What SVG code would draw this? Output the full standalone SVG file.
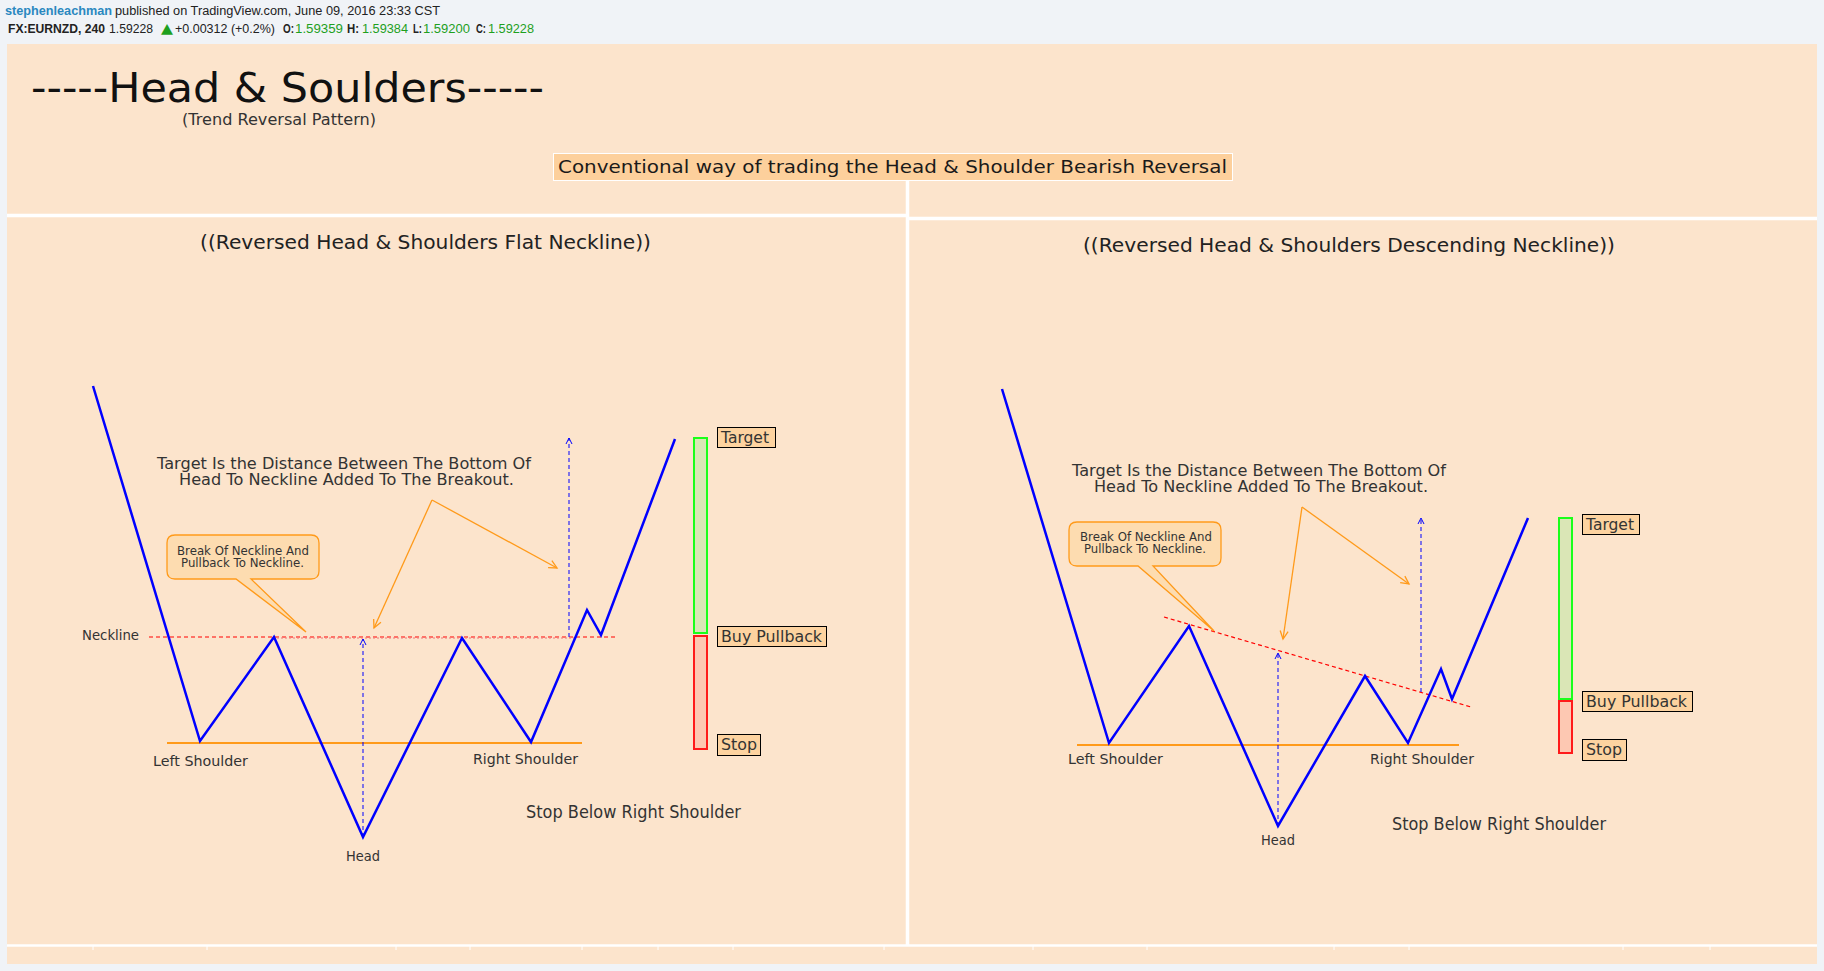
<svg xmlns="http://www.w3.org/2000/svg" width="1824" height="971" viewBox="0 0 1824 971">
<defs>
<style>
.t{font-family:"DejaVu Sans","Liberation Sans",sans-serif;fill:#333}
.h{font-family:"Liberation Sans",Arial,sans-serif;font-size:12px;fill:#222}
.b{font-weight:bold}
.g{fill:#1ea01e}
.blue{fill:none;stroke:#0000ff;stroke-width:2.5;stroke-linejoin:miter}
.neck{stroke:#ff0000;stroke-width:1.2;stroke-dasharray:4 3;fill:none}
.shl{stroke:#ff9a1a;stroke-width:2.2}
.oarr{fill:none;stroke:#ff9a1a;stroke-width:1.3;marker-end:url(#ao)}
.barr{stroke:#0000ff;stroke-width:1;stroke-dasharray:4 3;fill:none;marker-end:url(#ab)}
.lbl rect{fill:#fdd3a0;stroke:#000;stroke-width:1}
.lbl text{font-size:16px}
.call path{fill:#fddcb0;stroke:#ff9a1a;stroke-width:1.3}
.call text{font-size:12.5px}
.grn{fill:#dae6b6;stroke:#1aff1a;stroke-width:2}
.red{fill:#fdc8b2;stroke:#ff1a1a;stroke-width:2}
.sep{stroke:#ffffff;fill:none}
</style>
<marker id="ao" markerWidth="12" markerHeight="12" refX="9" refY="5" orient="auto" markerUnits="userSpaceOnUse"><path d="M1,1 L9,5 L1,9" fill="none" stroke="#ff9a1a" stroke-width="1.3"/></marker>
<marker id="ab" markerWidth="10" markerHeight="10" refX="7" refY="4" orient="auto" markerUnits="userSpaceOnUse"><path d="M1,1 L7,4 L1,7" fill="none" stroke="#0000ff" stroke-width="1"/></marker>
</defs>
<rect x="0" y="0" width="1824" height="971" fill="#f0f3f7"/>
<g id="header">
<text class="h b" x="5" y="15" style="fill:#2a88c0" textLength="107" lengthAdjust="spacingAndGlyphs">stephenleachman</text>
<text class="h" x="115" y="15" textLength="325" lengthAdjust="spacingAndGlyphs">published on TradingView.com, June 09, 2016 23:33 CST</text>
<text class="h b" x="8" y="33" textLength="97" lengthAdjust="spacingAndGlyphs">FX:EURNZD, 240</text>
<text class="h" x="109" y="33" textLength="44" lengthAdjust="spacingAndGlyphs">1.59228</text>
<text class="g" x="161" y="33" font-family="DejaVu Sans, sans-serif" font-size="14" textLength="12" lengthAdjust="spacingAndGlyphs">▲</text>
<text class="h" x="175" y="33" textLength="100" lengthAdjust="spacingAndGlyphs">+0.00312 (+0.2%)</text>
<text class="h b" x="283" y="33" textLength="11" lengthAdjust="spacingAndGlyphs">O:</text>
<text class="h g" x="295" y="33" textLength="48" lengthAdjust="spacingAndGlyphs">1.59359</text>
<text class="h b" x="347" y="33" textLength="12" lengthAdjust="spacingAndGlyphs">H:</text>
<text class="h g" x="362" y="33" textLength="46" lengthAdjust="spacingAndGlyphs">1.59384</text>
<text class="h b" x="413" y="33" textLength="9" lengthAdjust="spacingAndGlyphs">L:</text>
<text class="h g" x="423" y="33" textLength="47" lengthAdjust="spacingAndGlyphs">1.59200</text>
<text class="h b" x="476" y="33" textLength="10" lengthAdjust="spacingAndGlyphs">C:</text>
<text class="h g" x="488" y="33" textLength="46" lengthAdjust="spacingAndGlyphs">1.59228</text>
</g>
<g id="panel">
<rect x="7" y="44" width="1810" height="920" fill="#fce4cc"/>
<line class="sep" x1="7" y1="215.5" x2="907" y2="215.5" stroke-width="3.5"/>
<line class="sep" x1="907" y1="218.5" x2="1817" y2="218.5" stroke-width="3.5"/>
<line class="sep" x1="907.5" y1="181" x2="907.5" y2="945" stroke-width="3.5"/>
<line class="sep" x1="7" y1="945.5" x2="1817" y2="945.5" stroke-width="2.5"/>
<path class="sep" stroke-width="1" d="M93,946V950M207,946V950M396,946V950M470,946V950M582,946V950M658,946V950M733,946V950M884,946V950M1033,946V950M1147,946V950M1334,946V950M1409,946V950M1623,946V950M1710,946V950"/>
</g>
<g id="title">
<text class="t" x="31" y="102" font-size="41" style="fill:#111" textLength="513" lengthAdjust="spacingAndGlyphs">-----Head &amp; Soulders-----</text>
<text class="t" x="182" y="125" font-size="15" textLength="194" lengthAdjust="spacingAndGlyphs">(Trend Reversal Pattern)</text>
</g>
<g id="subtitle-box">
<rect x="553.5" y="153.5" width="679" height="27" fill="#fdd09c" stroke="#ffffff" stroke-width="1"/>
<text class="t" x="558" y="173" font-size="18" style="fill:#1a1a1a" textLength="669" lengthAdjust="spacingAndGlyphs">Conventional way of trading the Head &amp; Shoulder Bearish Reversal</text>
</g>
<g id="left-title"><text class="t" x="200" y="249" font-size="19" style="fill:#222" textLength="451" lengthAdjust="spacingAndGlyphs">((Reversed Head &amp; Shoulders Flat Neckline))</text></g>
<g id="right-title"><text class="t" x="1083" y="252" font-size="19" style="fill:#222" textLength="532" lengthAdjust="spacingAndGlyphs">((Reversed Head &amp; Shoulders Descending Neckline))</text></g>

<g id="connectors">
<line class="neck" x1="149" y1="637" x2="617" y2="637"/>
<line x1="273" y1="638" x2="577" y2="638" stroke="#f08080" stroke-width="2" stroke-dasharray="2 2" opacity="0.55"/>
<line class="shl" x1="167" y1="743" x2="582" y2="743"/>
<line class="barr" x1="363" y1="837" x2="363" y2="639"/>
<line class="barr" x1="569" y1="637" x2="569" y2="438"/>
<line class="oarr" x1="432" y1="500" x2="374" y2="628"/>
<line class="oarr" x1="432" y1="500" x2="557" y2="568"/>
<polyline class="blue" points="93,386 200,741 274,637 363,837 462,638 531,742 587,610 601,635 675,439"/>

<line class="neck" x1="1164" y1="617" x2="1471" y2="707"/>
<line class="shl" x1="1077" y1="745" x2="1459" y2="745"/>
<line class="barr" x1="1278" y1="826" x2="1278" y2="653"/>
<line class="barr" x1="1421" y1="692" x2="1421" y2="518"/>
<line class="oarr" x1="1302" y1="507" x2="1283" y2="639"/>
<line class="oarr" x1="1302" y1="507" x2="1409" y2="584"/>
<polyline class="blue" points="1002,389 1109,743 1189,626 1278,826 1365,676 1408,743 1441,669 1452,699 1528,518"/>
</g>

<g id="left-labels">
<text class="t" x="82" y="640" font-size="14" textLength="57" lengthAdjust="spacingAndGlyphs">Neckline</text>
<text class="t" x="153" y="766" font-size="14" textLength="95" lengthAdjust="spacingAndGlyphs">Left Shoulder</text>
<text class="t" x="473" y="764" font-size="14" textLength="105" lengthAdjust="spacingAndGlyphs">Right Shoulder</text>
<text class="t" x="346" y="861" font-size="14" textLength="34" lengthAdjust="spacingAndGlyphs">Head</text>
<text class="t" x="526" y="818" font-size="17" textLength="215" lengthAdjust="spacingAndGlyphs">Stop Below Right Shoulder</text>
<text class="t" x="157" y="469" font-size="16" textLength="374" lengthAdjust="spacingAndGlyphs">Target Is the Distance Between The Bottom Of</text>
<text class="t" x="179" y="485" font-size="16" textLength="335" lengthAdjust="spacingAndGlyphs">Head To Neckline Added To The Breakout.</text>
</g>
<g id="left-callout" class="call">
<path d="M175,535 H311 Q319,535 319,543 V571 Q319,579 311,579 H251 L306,632 L236,579 H175 Q167,579 167,571 V543 Q167,535 175,535 Z"/>
<text class="t" x="177" y="555" textLength="132" lengthAdjust="spacingAndGlyphs">Break Of Neckline And</text>
<text class="t" x="181" y="567" textLength="123" lengthAdjust="spacingAndGlyphs">Pullback To Neckline.</text>
</g>
<g id="left-bars">
<rect class="grn" x="694" y="438" width="13" height="195"/>
<rect class="red" x="694" y="636" width="13" height="113"/>
</g>
<g id="left-target" class="lbl"><rect x="717.5" y="427.5" width="58" height="20"/><text class="t" x="721" y="443" textLength="48" lengthAdjust="spacingAndGlyphs">Target</text></g>
<g id="left-buy" class="lbl"><rect x="717.5" y="626.5" width="109" height="20"/><text class="t" x="721" y="642" textLength="101" lengthAdjust="spacingAndGlyphs">Buy Pullback</text></g>
<g id="left-stop" class="lbl"><rect x="717.5" y="734.5" width="43" height="21"/><text class="t" x="721" y="750" textLength="36" lengthAdjust="spacingAndGlyphs">Stop</text></g>

<g id="right-labels">
<text class="t" x="1068" y="764" font-size="14" textLength="95" lengthAdjust="spacingAndGlyphs">Left Shoulder</text>
<text class="t" x="1370" y="764" font-size="14" textLength="104" lengthAdjust="spacingAndGlyphs">Right Shoulder</text>
<text class="t" x="1261" y="845" font-size="14" textLength="34" lengthAdjust="spacingAndGlyphs">Head</text>
<text class="t" x="1392" y="830" font-size="17" textLength="214" lengthAdjust="spacingAndGlyphs">Stop Below Right Shoulder</text>
<text class="t" x="1072" y="476" font-size="16" textLength="374" lengthAdjust="spacingAndGlyphs">Target Is the Distance Between The Bottom Of</text>
<text class="t" x="1094" y="492" font-size="16" textLength="334" lengthAdjust="spacingAndGlyphs">Head To Neckline Added To The Breakout.</text>
</g>
<g id="right-callout" class="call">
<path d="M1077,522 H1213 Q1221,522 1221,530 V558 Q1221,566 1213,566 H1153 L1214,631 L1138,566 H1077 Q1069,566 1069,558 V530 Q1069,522 1077,522 Z"/>
<text class="t" x="1080" y="541" textLength="132" lengthAdjust="spacingAndGlyphs">Break Of Neckline And</text>
<text class="t" x="1084" y="553" textLength="122" lengthAdjust="spacingAndGlyphs">Pullback To Neckline.</text>
</g>
<g id="right-bars">
<rect class="grn" x="1559" y="518" width="13" height="181"/>
<rect class="red" x="1559" y="701" width="13" height="52"/>
</g>
<g id="right-target" class="lbl"><rect x="1582.5" y="514.5" width="57" height="20"/><text class="t" x="1586" y="530" textLength="48" lengthAdjust="spacingAndGlyphs">Target</text></g>
<g id="right-buy" class="lbl"><rect x="1582.5" y="691.5" width="110" height="20"/><text class="t" x="1586" y="707" textLength="101" lengthAdjust="spacingAndGlyphs">Buy Pullback</text></g>
<g id="right-stop" class="lbl"><rect x="1582.5" y="739.5" width="44" height="21"/><text class="t" x="1586" y="755" textLength="36" lengthAdjust="spacingAndGlyphs">Stop</text></g>
</svg>
